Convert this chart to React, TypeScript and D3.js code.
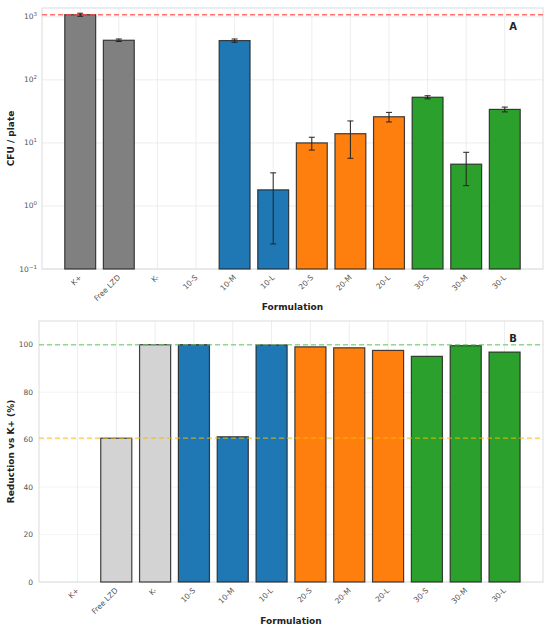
import * as d3 from 'd3';

const WIDTH = 550;
const HEIGHT = 630;

const categories = ['K+', 'Free LZD', 'K-', '10-S', '10-M', '10-L', '20-S', '20-M', '20-L', '30-S', '30-M', '30-L'];
const groups = ['ctrl', 'ctrl', 'ctrl', '10', '10', '10', '20', '20', '20', '30', '30', '30'];
const cfuMean = [1080, 425, 0, 0, 420, 1.8, 10, 14, 26, 53, 4.6, 34];
const cfuErr = [60, 20, 0, 0, 25, 1.55, 2.3, 8.3, 4.5, 3, 2.5, 3];
const reduction = [0, 60.6, 100, 100, 61.2, 99.9, 99.1, 98.7, 97.6, 95.1, 99.6, 96.9];
const logTicks = [-1, 0, 1, 2, 3];
const pctTicks = [0, 20, 40, 60, 80, 100];

const COLORS = { ctrlA: '#808080', ctrlB: '#d3d3d3', '10': '#1f77b4', '20': '#ff7f0e', '30': '#2ca02c' };

const A = { top: 8, right: 543, bottom: 269, left: 42 };
const B = { top: 321, right: 543, bottom: 582, left: 39 };

const FONT = 'DejaVu Sans, sans-serif';
const GRID = '#e8e8e8';
const SPINE = '#dcdcdc';
const TICK = '#555';

function fillFor(i: number, panel: 'A' | 'B') {
  const g = groups[i];
  if (g === 'ctrl') return panel === 'A' ? COLORS.ctrlA : COLORS.ctrlB;
  return COLORS[g as '10'];
}

function XTicks({ x, bottom }: { x: d3.ScaleLinear<number, number>; bottom: number }) {
  return (
    <g>
      {categories.map((c, i) => (
        <text
          key={c}
          transform={`translate(${x(i) + 2},${bottom + 9}) rotate(-45)`}
          textAnchor="end"
          fontSize={7.5}
          fill={TICK}
          fontFamily={FONT}
        >
          {c}
        </text>
      ))}
    </g>
  );
}

function PanelA() {
  const x = d3.scaleLinear().domain([-0.99, 11.99]).range([A.left, A.right]);
  const y = d3.scaleLog().domain([0.1, Math.pow(10, 3.14)]).range([A.bottom, A.top]);
  const bw = x(0.8) - x(0);
  const refY = y(cfuMean[0]);

  return (
    <g>
      <rect x={A.left} y={A.top} width={A.right - A.left} height={A.bottom - A.top} fill="white" />
      {logTicks.map((t) => (
        <line key={t} x1={A.left} x2={A.right} y1={y(Math.pow(10, t))} y2={y(Math.pow(10, t))} stroke={GRID} strokeWidth={0.8} />
      ))}
      {categories.map((c, i) => (
        <line key={c} x1={x(i)} x2={x(i)} y1={A.top} y2={A.bottom} stroke={GRID} strokeWidth={0.8} />
      ))}
      <rect x={A.left} y={A.top} width={A.right - A.left} height={A.bottom - A.top} fill="none" stroke={SPINE} strokeWidth={1} />
      {cfuMean.map((v, i) => (v > 0 ? (
        <rect
          key={i}
          x={x(i) - bw / 2}
          y={y(v)}
          width={bw}
          height={A.bottom - y(v)}
          fill={fillFor(i, 'A')}
          stroke="#222"
          strokeOpacity={0.85}
          strokeWidth={1.2}
        />
      ) : null))}
      {cfuMean.map((v, i) => {
        if (v <= 0) return null;
        const lo = y(Math.max(v - cfuErr[i], 0.1));
        const hi = y(v + cfuErr[i]);
        const cx = x(i);
        return (
          <g key={i} stroke="#222" strokeWidth={1}>
            <line x1={cx} x2={cx} y1={lo} y2={hi} />
            <line x1={cx - 3} x2={cx + 3} y1={lo} y2={lo} />
            <line x1={cx - 3} x2={cx + 3} y1={hi} y2={hi} />
          </g>
        );
      })}
      <line x1={A.left} x2={A.right} y1={refY} y2={refY} stroke="#ff4d4d" strokeOpacity={0.8} strokeWidth={1.4} strokeDasharray="5,3" />
      {logTicks.map((t) => (
        <text key={t} x={A.left - 5} y={y(Math.pow(10, t)) + 2.5} textAnchor="end" fontSize={7.5} fill={TICK} fontFamily={FONT}>
          10
          <tspan dy={-3} fontSize={5.5}>{t < 0 ? `\u2212${-t}` : t}</tspan>
        </text>
      ))}
      <XTicks x={x} bottom={A.bottom} />
      <text x={513} y={30} textAnchor="middle" fontSize={10} fontWeight="bold" fill="#222" fontFamily={FONT}>A</text>
      <text
        transform={`translate(14,${(A.top + A.bottom) / 2}) rotate(-90)`}
        textAnchor="middle"
        fontSize={9}
        fontWeight="bold"
        fill="#222"
        fontFamily={FONT}
      >
        CFU / plate
      </text>
      <text x={(A.left + A.right) / 2} y={310} textAnchor="middle" fontSize={9} fontWeight="bold" fill="#222" fontFamily={FONT}>
        Formulation
      </text>
    </g>
  );
}

function PanelB() {
  const x = d3.scaleLinear().domain([-0.99, 11.99]).range([B.left, B.right]);
  const y = d3.scaleLinear().domain([0, 110]).range([B.bottom, B.top]);
  const bw = x(0.8) - x(0);

  return (
    <g>
      <rect x={B.left} y={B.top} width={B.right - B.left} height={B.bottom - B.top} fill="white" />
      {pctTicks.map((t) => (
        <line key={t} x1={B.left} x2={B.right} y1={y(t)} y2={y(t)} stroke="#f1f1f1" strokeWidth={0.8} />
      ))}
      {categories.map((c, i) => (
        <line key={c} x1={x(i)} x2={x(i)} y1={B.top} y2={B.bottom} stroke={GRID} strokeWidth={0.8} />
      ))}
      <rect x={B.left} y={B.top} width={B.right - B.left} height={B.bottom - B.top} fill="none" stroke={SPINE} strokeWidth={1} />
      {reduction.map((v, i) => (
        <rect
          key={i}
          x={x(i) - bw / 2}
          y={y(v) - (v > 0 ? 0 : 1)}
          width={bw}
          height={B.bottom - y(v)}
          fill={fillFor(i, 'B')}
          stroke={v > 0 ? '#222' : '#b5b5b5'}
          strokeOpacity={0.85}
          strokeWidth={1.2}
        />
      ))}
      <line x1={B.left} x2={B.right} y1={y(100)} y2={y(100)} stroke="#6cc46c" strokeOpacity={0.7} strokeWidth={1.3} strokeDasharray="5,3" />
      <line x1={B.left} x2={B.right} y1={y(reduction[1])} y2={y(reduction[1])} stroke="#f2b800" strokeOpacity={0.75} strokeWidth={1.3} strokeDasharray="5,3" />
      {pctTicks.map((t) => (
        <text key={t} x={B.left - 6} y={y(t) + 2.5} textAnchor="end" fontSize={7.5} fill={TICK} fontFamily={FONT}>
          {t}
        </text>
      ))}
      <XTicks x={x} bottom={B.bottom} />
      <text x={513} y={342} textAnchor="middle" fontSize={10} fontWeight="bold" fill="#222" fontFamily={FONT}>B</text>
      <text
        transform={`translate(14,${(B.top + B.bottom) / 2}) rotate(-90)`}
        textAnchor="middle"
        fontSize={9}
        fontWeight="bold"
        fill="#222"
        fontFamily={FONT}
      >
        Reduction vs K+ (%)
      </text>
      <text x={(B.left + B.right) / 2} y={624} textAnchor="middle" fontSize={9} fontWeight="bold" fill="#222" fontFamily={FONT}>
        Formulation
      </text>
    </g>
  );
}

export default function App() {
  return (
    <svg
      width={WIDTH}
      height={HEIGHT}
      viewBox={`0 0 ${WIDTH} ${HEIGHT}`}
      style={{ position: 'absolute', left: 0, top: 0, background: 'white' }}
    >
      <PanelA />
      <PanelB />
    </svg>
  );
}
